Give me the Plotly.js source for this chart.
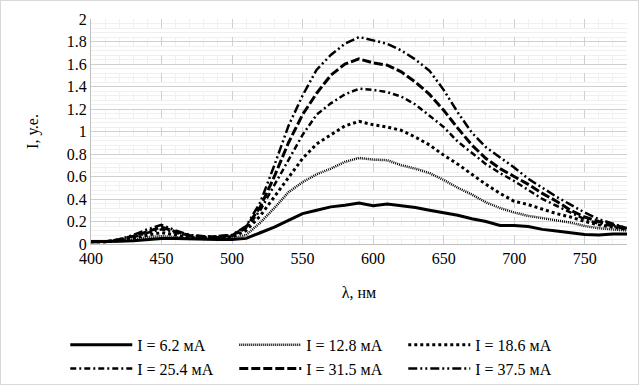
<!DOCTYPE html>
<html>
<head>
<meta charset="utf-8">
<script src="https://cdn.plot.ly/plotly-3.0.1.min.js"></script>
<style>
html,body{margin:0;padding:0;background:#fff;}
#chart{width:637px;height:383px;border:1px solid #d9d9d9;}
</style>
</head>
<body>
<div id="chart"></div>
<script>
// wavelength, nm
const wavelength = [400,410,420,430,440,450,460,470,480,490,500,510,520,530,540,550,560,570,580,590,600,610,620,630,640,650,660,670,680,690,700,710,720,730,740,750,760,770,780];
// intensity, a.u.
const i62  = [0.02,0.02,0.025,0.03,0.04,0.05,0.05,0.045,0.04,0.04,0.04,0.05,0.10,0.15,0.21,0.27,0.30,0.33,0.345,0.365,0.34,0.355,0.34,0.325,0.30,0.28,0.255,0.225,0.20,0.165,0.165,0.155,0.13,0.115,0.10,0.085,0.08,0.09,0.09];
const i128 = [0.02,0.02,0.03,0.04,0.06,0.07,0.06,0.05,0.045,0.045,0.05,0.08,0.19,0.32,0.46,0.55,0.62,0.67,0.73,0.765,0.75,0.745,0.70,0.67,0.63,0.57,0.50,0.44,0.37,0.32,0.28,0.25,0.23,0.21,0.19,0.16,0.14,0.13,0.12];
const i186 = [0.02,0.02,0.03,0.05,0.08,0.10,0.08,0.06,0.05,0.05,0.06,0.12,0.25,0.42,0.60,0.76,0.89,0.97,1.05,1.09,1.06,1.04,1.01,0.95,0.88,0.79,0.71,0.62,0.53,0.45,0.38,0.35,0.31,0.27,0.24,0.20,0.17,0.15,0.13];
const i254 = [0.02,0.02,0.035,0.06,0.10,0.13,0.10,0.07,0.06,0.06,0.07,0.14,0.30,0.52,0.75,0.97,1.15,1.25,1.33,1.38,1.37,1.35,1.31,1.24,1.14,1.04,0.91,0.81,0.71,0.63,0.56,0.48,0.40,0.34,0.28,0.22,0.18,0.16,0.13];
const i315 = [0.02,0.02,0.04,0.07,0.11,0.15,0.11,0.075,0.065,0.065,0.075,0.15,0.33,0.60,0.90,1.15,1.34,1.50,1.60,1.645,1.61,1.59,1.53,1.44,1.33,1.19,1.03,0.88,0.76,0.67,0.60,0.53,0.45,0.38,0.30,0.24,0.20,0.17,0.14];
const i375 = [0.02,0.02,0.04,0.08,0.13,0.17,0.12,0.08,0.07,0.07,0.08,0.16,0.37,0.70,1.05,1.32,1.55,1.68,1.78,1.84,1.81,1.78,1.72,1.64,1.54,1.37,1.17,0.99,0.86,0.77,0.68,0.58,0.50,0.42,0.35,0.28,0.22,0.18,0.14];
const seriesNames = ['I = 6.2 мА','I = 12.8 мА','I = 18.6 мА','I = 25.4 мА','I = 31.5 мА','I = 37.5 мА'];
const xTicks = [400,450,500,550,600,650,700,750];
const yTicks = [0,0.2,0.4,0.6,0.8,1,1.2,1.4,1.6,1.8,2];

const seriesData = [i62,i128,i186,i254,i315,i375];
const styles = [
  {dash:'solid', width:3},
  {dash:'1px,1px', width:2.5},
  {dash:'3px,3px', width:3},
  {dash:'6px,3px,2px,3px', width:2.5},
  {dash:'9px,3px', width:3},
  {dash:'9px,3px,2px,3px,2px,3px', width:2.5}
];
const traces = seriesData.map((y,k)=>({
  x: wavelength, y: y, type:'scatter', mode:'lines', name: seriesNames[k],
  line:{color:'#000', width:styles[k].width, dash:styles[k].dash}
}));

const font = {family:'"Liberation Serif", "Times New Roman", serif', size:16, color:'#000'};
const layout = {
  width:637, height:383,
  margin:{l:90, r:11, t:18, b:140, autoexpand:false},
  paper_bgcolor:'#fff', plot_bgcolor:'#fff',
  font: font,
  showlegend:true,
  xaxis:{
    range:[400,780], tickvals:xTicks, ticktext:xTicks.map(String),
    showgrid:true, gridcolor:'#d0d0d0', griddash:'dash', gridwidth:1,
    minor:{dtick:10, tick0:400, showgrid:true, gridcolor:'#f0f0f0', gridwidth:1},
    showline:true, linecolor:'#bfbfbf', linewidth:1, zeroline:false,
    ticks:'', tickfont:font,
    title:{text:'λ, нм', font:font, standoff:20}
  },
  yaxis:{
    range:[0,2], tickvals:yTicks, ticktext:yTicks.map(String),
    showgrid:true, gridcolor:'#d0d0d0', gridwidth:1,
    minor:{dtick:0.04, tick0:0, showgrid:true, gridcolor:'#f0f0f0', gridwidth:1},
    showline:true, linecolor:'#bfbfbf', linewidth:1, zeroline:false,
    ticks:'', tickfont:font,
    title:{text:'I, у.е.', font:font, standoff:24}
  },
  legend:{
    orientation:'h', x:-0.048, xanchor:'left', y:-0.373, yanchor:'top',
    entrywidth:92, entrywidthmode:'pixels', itemwidth:62,
    font:font, bgcolor:'rgba(0,0,0,0)'
  }
};
Plotly.newPlot('chart', traces, layout, {staticPlot:true, displayModeBar:false});
</script>
</body>
</html>
